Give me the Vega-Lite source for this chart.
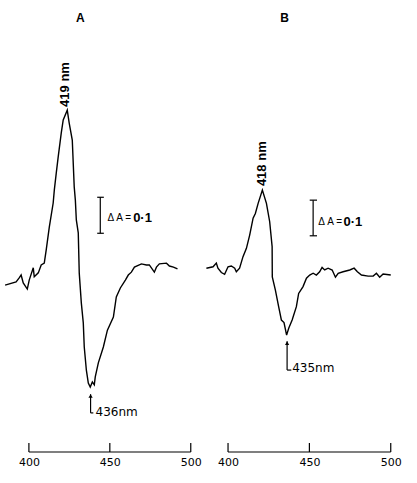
{
  "$schema": "https://vega.github.io/schema/vega-lite/v6.json",
  "background": "white",
  "padding": {"left": 2, "top": 0, "right": 0, "bottom": 0},
  "autosize": {"type": "pad"},
  "spacing": 8,
  "bounds": "flush",
  "config": {"view": {"stroke": null}},
  "datasets": {
    "spectra": [
      {"p":"A","x":385.3,"y":0.008},{"p":"A","x":392.1,"y":0.017},{"p":"A","x":394.0,"y":0.028},{"p":"A","x":395.2,"y":0.036},
      {"p":"A","x":396.5,"y":0.014},{"p":"A","x":399.0,"y":-0.003},{"p":"A","x":400.2,"y":0.022},{"p":"A","x":402.7,"y":0.056},
      {"p":"A","x":403.3,"y":0.031},{"p":"A","x":405.8,"y":0.042},{"p":"A","x":407.6,"y":0.064},{"p":"A","x":409.5,"y":0.069},
      {"p":"A","x":410.7,"y":0.106},{"p":"A","x":412.6,"y":0.169},{"p":"A","x":415.0,"y":0.236},{"p":"A","x":415.7,"y":0.272},
      {"p":"A","x":416.9,"y":0.319},{"p":"A","x":418.1,"y":0.364},{"p":"A","x":420.0,"y":0.431},{"p":"A","x":421.2,"y":0.467},
      {"p":"A","x":423.7,"y":0.494},{"p":"A","x":424.9,"y":0.458},{"p":"A","x":426.8,"y":0.411},{"p":"A","x":428.0,"y":0.281},
      {"p":"A","x":428.7,"y":0.244},{"p":"A","x":429.3,"y":0.189},{"p":"A","x":430.5,"y":0.153},{"p":"A","x":431.1,"y":0.042},
      {"p":"A","x":432.4,"y":-0.042},{"p":"A","x":433.6,"y":-0.097},{"p":"A","x":434.2,"y":-0.164},{"p":"A","x":435.5,"y":-0.228},
      {"p":"A","x":436.7,"y":-0.264},{"p":"A","x":437.9,"y":-0.275},{"p":"A","x":439.2,"y":-0.261},{"p":"A","x":440.4,"y":-0.269},
      {"p":"A","x":441.0,"y":-0.247},{"p":"A","x":442.9,"y":-0.208},{"p":"A","x":446.0,"y":-0.164},{"p":"A","x":448.5,"y":-0.117},
      {"p":"A","x":452.2,"y":-0.081},{"p":"A","x":454.0,"y":-0.025},{"p":"A","x":456.5,"y":0.0},{"p":"A","x":459.6,"y":0.022},
      {"p":"A","x":461.4,"y":0.036},{"p":"A","x":463.3,"y":0.044},{"p":"A","x":465.2,"y":0.058},{"p":"A","x":469.5,"y":0.067},
      {"p":"A","x":472.6,"y":0.064},{"p":"A","x":474.4,"y":0.064},{"p":"A","x":477.5,"y":0.044},{"p":"A","x":478.8,"y":0.058},
      {"p":"A","x":480.6,"y":0.067},{"p":"A","x":485.0,"y":0.069},{"p":"A","x":486.8,"y":0.061},{"p":"A","x":489.3,"y":0.058},
      {"p":"A","x":491.8,"y":0.053},
      {"p":"B","x":386.7,"y":0.055},{"p":"B","x":390.8,"y":0.059},{"p":"B","x":392.8,"y":0.069},{"p":"B","x":393.8,"y":0.055},
      {"p":"B","x":395.9,"y":0.043},{"p":"B","x":397.9,"y":0.038},{"p":"B","x":400.0,"y":0.059},{"p":"B","x":402.0,"y":0.061},
      {"p":"B","x":404.1,"y":0.055},{"p":"B","x":405.1,"y":0.045},{"p":"B","x":407.1,"y":0.055},{"p":"B","x":409.2,"y":0.087},
      {"p":"B","x":411.3,"y":0.110},{"p":"B","x":413.3,"y":0.147},{"p":"B","x":415.4,"y":0.194},{"p":"B","x":416.8,"y":0.207},
      {"p":"B","x":418.5,"y":0.235},{"p":"B","x":421.1,"y":0.272},{"p":"B","x":423.6,"y":0.235},{"p":"B","x":425.6,"y":0.184},
      {"p":"B","x":427.1,"y":0.115},{"p":"B","x":427.2,"y":0.031},{"p":"B","x":429.1,"y":-0.006},{"p":"B","x":431.1,"y":-0.052},
      {"p":"B","x":432.8,"y":-0.089},{"p":"B","x":434.4,"y":-0.096},{"p":"B","x":436.0,"y":-0.131},{"p":"B","x":437.3,"y":-0.112},
      {"p":"B","x":439.4,"y":-0.089},{"p":"B","x":442.0,"y":-0.052},{"p":"B","x":443.4,"y":-0.015},{"p":"B","x":446.1,"y":0.004},
      {"p":"B","x":448.2,"y":0.027},{"p":"B","x":450.2,"y":0.036},{"p":"B","x":452.3,"y":0.041},{"p":"B","x":454.3,"y":0.036},
      {"p":"B","x":456.3,"y":0.045},{"p":"B","x":457.8,"y":0.057},{"p":"B","x":459.4,"y":0.050},{"p":"B","x":461.5,"y":0.055},
      {"p":"B","x":464.0,"y":0.050},{"p":"B","x":466.0,"y":0.030},{"p":"B","x":467.7,"y":0.041},{"p":"B","x":470.7,"y":0.045},
      {"p":"B","x":474.8,"y":0.050},{"p":"B","x":477.5,"y":0.055},{"p":"B","x":479.5,"y":0.045},{"p":"B","x":482.0,"y":0.036},
      {"p":"B","x":486.1,"y":0.033},{"p":"B","x":489.2,"y":0.033},{"p":"B","x":491.2,"y":0.041},{"p":"B","x":493.2,"y":0.030},
      {"p":"B","x":495.3,"y":0.039},{"p":"B","x":500.0,"y":0.036}
    ],
    "axisline": [{"x": 400, "x2": 500, "y": -0.4556}],
    "axisticks": [
      {"x": 400, "y": -0.4556, "y2": -0.4306},
      {"x": 450, "y": -0.4556, "y2": -0.4306},
      {"x": 500, "y": -0.4556, "y2": -0.4306}
    ],
    "segments": [
      {"p":"A","x":444.1,"x2":444.1,"y":0.152,"y2":0.252},
      {"p":"A","x":442.2,"x2":446.3,"y":0.252,"y2":0.252},
      {"p":"A","x":442.2,"x2":446.3,"y":0.152,"y2":0.152},
      {"p":"A","x":438.1,"x2":438.1,"y":-0.295,"y2":-0.347},
      {"p":"A","x":438.1,"x2":439.8,"y":-0.347,"y2":-0.347},
      {"p":"B","x":452.3,"x2":452.3,"y":0.145,"y2":0.244},
      {"p":"B","x":450.2,"x2":454.7,"y":0.244,"y2":0.244},
      {"p":"B","x":450.2,"x2":454.7,"y":0.145,"y2":0.145},
      {"p":"B","x":436.3,"x2":436.3,"y":-0.148,"y2":-0.228},
      {"p":"B","x":436.3,"x2":438.9,"y":-0.228,"y2":-0.228}
    ],
    "arrowheads": [
      {"p":"A","x":438.1,"y":-0.300},
      {"p":"B","x":436.3,"y":-0.153}
    ],
    "titles": [
      {"p":"A","t":"A","x":431.8,"y":0.75},
      {"p":"B","t":"B","x":434.8,"y":0.749}
    ],
    "peaks": [
      {"p":"A","t":"419 nm","x":422.5,"y":0.503},
      {"p":"B","t":"418 nm","x":420.9,"y":0.283}
    ],
    "deltas": [
      {"p":"A","t":"Δ A =","x":448.5,"y":0.194},
      {"p":"B","t":"Δ A =","x":455.5,"y":0.184}
    ],
    "values": [
      {"p":"A","t":"0·1","x":464.4,"y":0.194},
      {"p":"B","t":"0·1","x":470.9,"y":0.184}
    ],
    "minima": [
      {"p":"A","t":"436nm","x":441.2,"y":-0.345},
      {"p":"B","t":"435nm","x":439.4,"y":-0.222}
    ]
  },
  "hconcat": [
    {
      "width": 191,
      "height": 452,
      "encoding": {
        "x": {"field": "x", "type": "quantitative", "scale": {"domain": [384, 502], "nice": false, "zero": false},
              "axis": {"values": [400, 450, 500], "ticks": false, "domain": false, "grid": false, "title": null, "format": "d",
                       "labelFont": "DejaVu Sans", "labelFontSize": 11, "labelColor": "black", "labelPadding": 4, "labelFlush": false}},
        "y": {"field": "y", "type": "quantitative", "scale": {"domain": [-0.4556, 0.8], "nice": false, "zero": false}, "axis": null}
      },
      "layer": [
        {"data": {"name": "spectra"}, "transform": [{"filter": "datum.p === 'A'"}], "mark": {"type": "line", "color": "black", "strokeWidth": 1.4}},
        {"data": {"name": "axisline"}, "mark": {"type": "rule", "color": "black", "strokeWidth": 1.2}, "encoding": {"x2": {"field": "x2"}}},
        {"data": {"name": "axisticks"}, "mark": {"type": "rule", "color": "black", "strokeWidth": 1.2}, "encoding": {"y2": {"field": "y2"}}},
        {"data": {"name": "segments"}, "transform": [{"filter": "datum.p === 'A'"}], "mark": {"type": "rule", "color": "black", "strokeWidth": 1.2}, "encoding": {"x2": {"field": "x2"}, "y2": {"field": "y2"}}},
        {"data": {"name": "arrowheads"}, "transform": [{"filter": "datum.p === 'A'"}], "mark": {"type": "point", "shape": "triangle-up", "filled": true, "color": "black", "size": 18, "opacity": 1}},
        {"data": {"name": "titles"}, "transform": [{"filter": "datum.p === 'A'"}], "mark": {"type": "text", "font": "Liberation Sans", "fontWeight": "bold", "fontSize": 12, "align": "center", "baseline": "middle", "color": "black"}, "encoding": {"text": {"field": "t"}}},
        {"data": {"name": "peaks"}, "transform": [{"filter": "datum.p === 'A'"}], "mark": {"type": "text", "font": "Liberation Sans", "fontWeight": "bold", "fontSize": 13, "angle": 270, "align": "left", "baseline": "middle", "color": "black"}, "encoding": {"text": {"field": "t"}}},
        {"data": {"name": "deltas"}, "transform": [{"filter": "datum.p === 'A'"}], "mark": {"type": "text", "font": "Liberation Sans", "fontSize": 10, "align": "left", "baseline": "middle", "color": "black"}, "encoding": {"text": {"field": "t"}}},
        {"data": {"name": "values"}, "transform": [{"filter": "datum.p === 'A'"}], "mark": {"type": "text", "font": "Liberation Sans", "fontWeight": "bold", "fontSize": 13, "align": "left", "baseline": "middle", "color": "black"}, "encoding": {"text": {"field": "t"}}},
        {"data": {"name": "minima"}, "transform": [{"filter": "datum.p === 'A'"}], "mark": {"type": "text", "font": "DejaVu Sans", "fontSize": 12, "align": "left", "baseline": "middle", "color": "black"}, "encoding": {"text": {"field": "t"}}}
      ]
    },
    {
      "width": 192,
      "height": 452,
      "encoding": {
        "x": {"field": "x", "type": "quantitative", "scale": {"domain": [384, 502], "nice": false, "zero": false},
              "axis": {"values": [400, 450, 500], "ticks": false, "domain": false, "grid": false, "title": null, "format": "d",
                       "labelFont": "DejaVu Sans", "labelFontSize": 11, "labelColor": "black", "labelPadding": 4, "labelFlush": false}},
        "y": {"field": "y", "type": "quantitative", "scale": {"domain": [-0.4556, 0.8], "nice": false, "zero": false}, "axis": null}
      },
      "layer": [
        {"data": {"name": "spectra"}, "transform": [{"filter": "datum.p === 'B'"}], "mark": {"type": "line", "color": "black", "strokeWidth": 1.4}},
        {"data": {"name": "axisline"}, "mark": {"type": "rule", "color": "black", "strokeWidth": 1.2}, "encoding": {"x2": {"field": "x2"}}},
        {"data": {"name": "axisticks"}, "mark": {"type": "rule", "color": "black", "strokeWidth": 1.2}, "encoding": {"y2": {"field": "y2"}}},
        {"data": {"name": "segments"}, "transform": [{"filter": "datum.p === 'B'"}], "mark": {"type": "rule", "color": "black", "strokeWidth": 1.2}, "encoding": {"x2": {"field": "x2"}, "y2": {"field": "y2"}}},
        {"data": {"name": "arrowheads"}, "transform": [{"filter": "datum.p === 'B'"}], "mark": {"type": "point", "shape": "triangle-up", "filled": true, "color": "black", "size": 18, "opacity": 1}},
        {"data": {"name": "titles"}, "transform": [{"filter": "datum.p === 'B'"}], "mark": {"type": "text", "font": "Liberation Sans", "fontWeight": "bold", "fontSize": 12, "align": "center", "baseline": "middle", "color": "black"}, "encoding": {"text": {"field": "t"}}},
        {"data": {"name": "peaks"}, "transform": [{"filter": "datum.p === 'B'"}], "mark": {"type": "text", "font": "Liberation Sans", "fontWeight": "bold", "fontSize": 13, "angle": 270, "align": "left", "baseline": "middle", "color": "black"}, "encoding": {"text": {"field": "t"}}},
        {"data": {"name": "deltas"}, "transform": [{"filter": "datum.p === 'B'"}], "mark": {"type": "text", "font": "Liberation Sans", "fontSize": 10, "align": "left", "baseline": "middle", "color": "black"}, "encoding": {"text": {"field": "t"}}},
        {"data": {"name": "values"}, "transform": [{"filter": "datum.p === 'B'"}], "mark": {"type": "text", "font": "Liberation Sans", "fontWeight": "bold", "fontSize": 13, "align": "left", "baseline": "middle", "color": "black"}, "encoding": {"text": {"field": "t"}}},
        {"data": {"name": "minima"}, "transform": [{"filter": "datum.p === 'B'"}], "mark": {"type": "text", "font": "DejaVu Sans", "fontSize": 12, "align": "left", "baseline": "middle", "color": "black"}, "encoding": {"text": {"field": "t"}}}
      ]
    }
  ]
}
